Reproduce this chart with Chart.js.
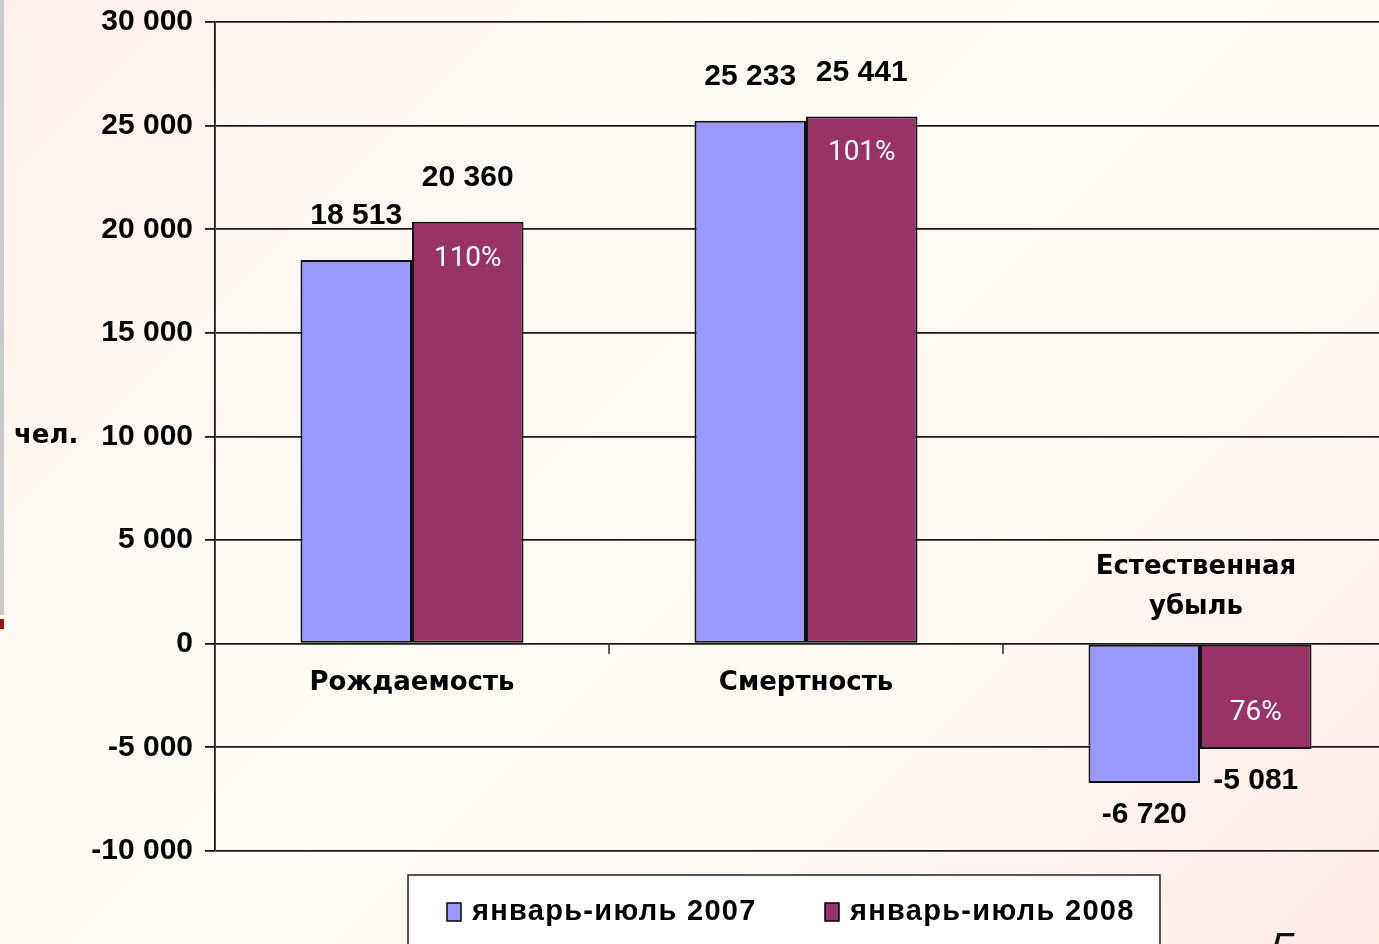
<!DOCTYPE html>
<html>
<head>
<meta charset="utf-8">
<script src="https://cdn.jsdelivr.net/npm/chart.js@4/dist/chart.umd.min.js"></script>
<style>
  html, body { margin: 0; padding: 0; overflow: hidden; }
  body {
    width: 1379px; height: 944px; position: relative;
    background: linear-gradient(135deg, #fdf0ec 0%, #fdf8f3 25%, #fdfbf4 50%, #fdf8f3 70%, #fdebe8 100%);
  }
  #wrap { position: absolute; left: 0; top: -8px; width: 1420px; height: 952px; }
  #edge { position: absolute; left: 0; top: 0; width: 4px; height: 615px; background: #c9c9c9; }
  #mark { position: absolute; left: 0; top: 619px; width: 4px; height: 10px; background: #a01010; }
</style>
</head>
<body>
<div id="edge"></div>
<div id="mark"></div>
<div id="wrap"><canvas id="chart" width="1420" height="952"></canvas></div>
<script>
var categories = ['Рождаемость', 'Смертность', ['Естественная', 'убыль']];
var seriesNames = ['январь-июль 2007', 'январь-июль 2008'];
var values2007 = [18513, 25233, -6720];
var values2008 = [20360, 25441, -5081];
var percents = ['110%', '101%', '76%'];
var colors = ['#9999ff', '#993366'];

var yMin = -10000, yMax = 30000, yStep = 5000;

// canvas sits 8px above the page top
var off = 8;

function fmt(v) {
    var s = Math.abs(v).toString().replace(/\B(?=(\d{3})+(?!\d))/g, ' ');
    return (v < 0 ? '-' : '') + s;
}

var numFont = 'bold 30px "Liberation Sans", Arial, sans-serif';
var catFont = 'bold 26px "DejaVu Sans", Verdana, sans-serif';

let labelsPlugin = {
    id: 'labels',
    afterDatasetsDraw: (chart) => {
        let ctx = chart.ctx;
        let x = chart.scales.x, y = chart.scales.y;
        ctx.save();

        // small tick marks on the zero line between categories
        let y0 = y.getPixelForValue(0);
        ctx.strokeStyle = '#222';
        ctx.lineWidth = 1.5;
        for (let i = 0; i < categories.length - 1; i++) {
            let xb = (x.getPixelForValue(i) + x.getPixelForValue(i + 1)) / 2;
            ctx.beginPath();
            ctx.moveTo(xb, y0);
            ctx.lineTo(xb, y0 + 10);
            ctx.stroke();
        }

        // value labels
        ctx.textAlign = 'center';
        ctx.textBaseline = 'middle';
        chart.data.datasets.forEach((ds, di) => {
            let meta = chart.getDatasetMeta(di);
            meta.data.forEach((bar, i) => {
                let v = ds.data[i];
                let ly = v >= 0 ? bar.y - 44 : bar.y + 32;
                ctx.fillStyle = '#000';
                ctx.font = numFont;
                ctx.fillText(fmt(v), bar.x, ly);
                if (di === 1) {
                    ctx.fillStyle = '#ffffff';
                    ctx.font = '28px Roboto, "Liberation Sans", sans-serif';
                    let py = v >= 0 ? bar.y + 37 : bar.y - 36;
                    ctx.fillText(percents[i], bar.x, py);
                }
            });
        });

        // category labels
        ctx.fillStyle = '#000';
        ctx.font = catFont;
        categories.forEach((c, i) => {
            let cx = x.getPixelForValue(i);
            if (Array.isArray(c)) {
                ctx.fillText(c[0], cx - 4, y0 - 77);
                ctx.fillText(c[1], cx - 4, y0 - 37);
            } else {
                ctx.fillText(c, cx, y0 + 39);
            }
        });

        // axis unit
        ctx.textAlign = 'left';
        ctx.fillText('чел.', 14, y.getPixelForValue(10000));

        // legend box
        let lx = 408, ly = 875 + off, lw = 752;
        ctx.fillStyle = '#ffffff';
        ctx.fillRect(lx, ly, lw, 120);
        ctx.strokeStyle = '#222';
        ctx.lineWidth = 1.5;
        ctx.strokeRect(lx, ly, lw, 120);
        let itemX = [447, 825];
        seriesNames.forEach((name, i) => {
            ctx.fillStyle = colors[i];
            ctx.fillRect(itemX[i], 903 + off, 14, 18);
            ctx.strokeStyle = '#000';
            ctx.lineWidth = 1.5;
            ctx.strokeRect(itemX[i], 903 + off, 14, 18);
            ctx.fillStyle = '#000';
            ctx.font = 'bold 29px "Liberation Sans", Arial, sans-serif';
            ctx.letterSpacing = '1.3px';
            ctx.textAlign = 'left';
            ctx.textBaseline = 'middle';
            ctx.fillText(name, itemX[i] + 25, 912 + off);
            ctx.letterSpacing = '0px';
        });

        // page number (cut off at bottom)
        ctx.font = 'italic 44px "Liberation Sans", Arial, sans-serif';
        ctx.textAlign = 'left';
        ctx.textBaseline = 'alphabetic';
        ctx.fillStyle = '#111';
        ctx.fillText('5', 1270, 964 + off);

        ctx.restore();
    }
};

new Chart(document.getElementById('chart'), {
    type: 'bar',
    data: {
        labels: categories,
        datasets: [
            { label: seriesNames[0], data: values2007, backgroundColor: colors[0] },
            { label: seriesNames[1], data: values2008, backgroundColor: colors[1] }
        ]
    },
    options: {
        responsive: false,
        animation: false,
        events: [],
        layout: { padding: { top: 14, bottom: 93, right: 23, left: 0 } },
        datasets: {
            bar: {
                categoryPercentage: 0.566,
                barPercentage: 1,
                borderColor: '#111',
                borderWidth: 2,
                borderSkipped: false
            }
        },
        plugins: {
            legend: { display: false },
            tooltip: { enabled: false }
        },
        scales: {
            x: { display: false },
            y: {
                min: yMin,
                max: yMax,
                afterFit: (s) => { s.width = 215; },
                ticks: {
                    stepSize: yStep,
                    color: '#000',
                    font: { family: '"Liberation Sans", Arial, sans-serif', size: 30, weight: 'bold' },
                    padding: 12,
                    callback: (v) => fmt(v)
                },
                grid: { color: '#1a1a1a', lineWidth: 1.8, tickLength: 10 },
                border: { color: '#1a1a1a', width: 1.8 }
            }
        }
    },
    plugins: [labelsPlugin]
});
</script>
</body>
</html>
